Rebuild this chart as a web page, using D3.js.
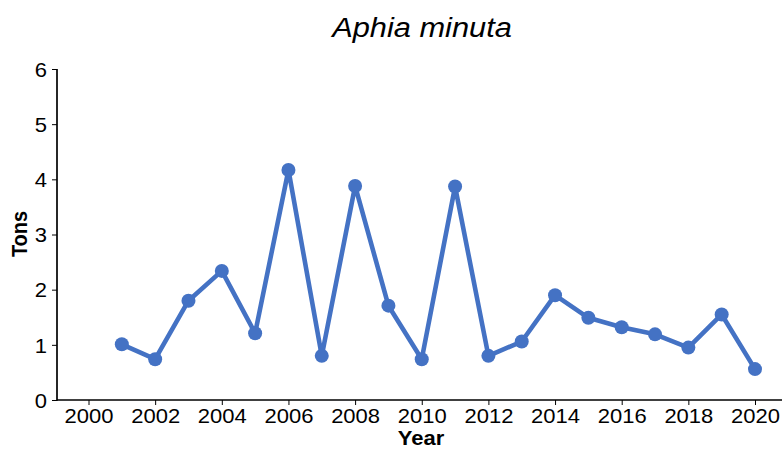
<!DOCTYPE html>
<html><head><meta charset="utf-8">
<script src="https://cdn.jsdelivr.net/npm/d3@7"></script>
<style>body{margin:0;background:#fff}svg{display:block}text{font-family:"Liberation Sans",Arial,sans-serif;fill:#000}</style>
</head><body><svg id="c" width="782" height="451"></svg>
<script>
const years = [2001,2002,2003,2004,2005,2006,2007,2008,2009,2010,2011,2012,2013,2014,2015,2016,2017,2018,2019,2020];
const tons = [1.01,0.74,1.80,2.34,1.21,4.17,0.80,3.88,1.71,0.74,3.87,0.80,1.06,1.90,1.49,1.32,1.19,0.95,1.55,0.56];
const xTicks = [2000,2002,2004,2006,2008,2010,2012,2014,2016,2018,2020];
const yTicks = [0,1,2,3,4,5,6];
const title = "Aphia minuta", xTitle = "Year", yTitle = "Tons";

const SX = 1.1;
const svg = d3.select("#c");
const x = d3.scaleLinear().domain([2000,2020]).range([88.5,755]);
const y = d3.scaleLinear().domain([0,6]).range([400,69]);
const x0 = 57;

const xa = svg.append("g").attr("transform","translate(0,400)")
  .call(d3.axisBottom(x).tickValues(xTicks).tickFormat(d3.format("d")).tickSize(5).tickSizeOuter(0));
xa.select(".domain").remove();
xa.append("line").attr("x1",x0).attr("x2",782).attr("stroke","#000").attr("stroke-width",1.7);
xa.selectAll(".tick line").attr("stroke","#000").attr("stroke-width",1);
xa.selectAll(".tick text").attr("y",23).attr("dy",null)
  .style("font-size","20px").attr("transform",`scale(${SX},1)`);

const ya = svg.append("g").attr("transform",`translate(${x0},0)`)
  .call(d3.axisLeft(y).tickValues(yTicks).tickFormat(d3.format("d")).tickSize(5).tickSizeOuter(0));
ya.select(".domain").remove();
ya.append("line").attr("y1",y(6)).attr("y2",400.8).attr("stroke","#000").attr("stroke-width",1.7);
ya.selectAll(".tick line").attr("stroke","#000").attr("stroke-width",1);
ya.selectAll(".tick text").attr("x",-10/SX).attr("dy","0.36em")
  .style("font-size","20px").attr("transform",`scale(${SX},1)`);
svg.selectAll(".tick text").style("font-family","'Liberation Sans',Arial,sans-serif").attr("fill","#000");

const line = d3.line().x((d,i)=>x(years[i])).y(d=>y(d));
svg.append("path").datum(tons).attr("d",line).attr("fill","none")
  .attr("stroke","#4472C4").attr("stroke-width",4.6).attr("stroke-linejoin","round");
svg.selectAll("circle.p").data(tons).join("circle").attr("class","p")
  .attr("cx",(d,i)=>x(years[i])).attr("cy",d=>y(d)).attr("r",7).attr("fill","#4472C4");

svg.append("text").attr("transform",`translate(422,37) scale(${SX},1)`).attr("text-anchor","middle")
  .style("font-size","28px").attr("font-style","italic").text(title);
svg.append("text").attr("transform",`translate(421,445) scale(${SX},1)`).attr("text-anchor","middle")
  .style("font-size","20px").attr("font-weight","bold").text(xTitle);
svg.append("text").attr("transform",`translate(27,234) scale(1.12,1) rotate(-90)`).attr("text-anchor","middle")
  .style("font-size","20px").attr("font-weight","bold").text(yTitle);
</script></body></html>
